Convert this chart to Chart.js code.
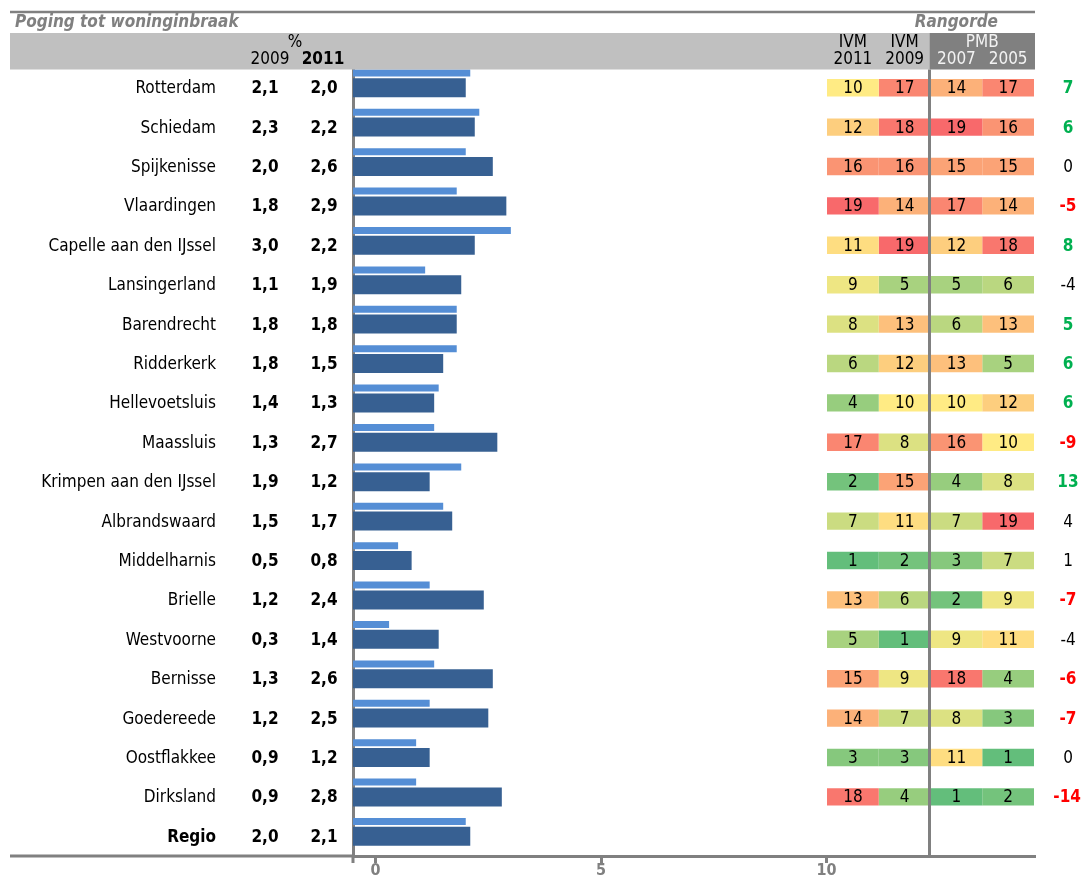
<!DOCTYPE html>
<html>
<head>
<meta charset="utf-8">
<script src="https://cdn.jsdelivr.net/npm/chart.js@4/dist/chart.umd.min.js"></script>
<style>
  html, body { margin: 0; padding: 0; background: #ffffff; }
  #wrap { width: 1084px; height: 879px; position: relative; }
</style>
</head>
<body>
<div id="wrap"><canvas id="c" width="1084" height="879"></canvas></div>
<script>
// ---------- data ----------
const categories = ['Rotterdam', 'Schiedam', 'Spijkenisse', 'Vlaardingen', 'Capelle aan den IJssel',
  'Lansingerland', 'Barendrecht', 'Ridderkerk', 'Hellevoetsluis', 'Maassluis',
  'Krimpen aan den IJssel', 'Albrandswaard', 'Middelharnis', 'Brielle', 'Westvoorne',
  'Bernisse', 'Goedereede', 'Oostflakkee', 'Dirksland', 'Regio'];
const pct2009 = [2.1, 2.3, 2.0, 1.8, 3.0, 1.1, 1.8, 1.8, 1.4, 1.3, 1.9, 1.5, 0.5, 1.2, 0.3, 1.3, 1.2, 0.9, 0.9, 2.0];
const pct2011 = [2.0, 2.2, 2.6, 2.9, 2.2, 1.9, 1.8, 1.5, 1.3, 2.7, 1.2, 1.7, 0.8, 2.4, 1.4, 2.6, 2.5, 1.2, 2.8, 2.1];
const rankIVM2011 = [10, 12, 16, 19, 11, 9, 8, 6, 4, 17, 2, 7, 1, 13, 5, 15, 14, 3, 18, null];
const rankIVM2009 = [17, 18, 16, 14, 19, 5, 13, 12, 10, 8, 15, 11, 2, 6, 1, 9, 7, 3, 4, null];
const rankPMB2007 = [14, 19, 15, 17, 12, 5, 6, 13, 10, 16, 4, 7, 3, 2, 9, 18, 8, 11, 1, null];
const rankPMB2005 = [17, 16, 15, 14, 18, 6, 13, 5, 12, 10, 8, 19, 7, 9, 11, 4, 3, 1, 2, null];
const rankChange = [7, 6, 0, -5, 8, -4, 5, 6, 6, -9, 13, 4, 1, -7, -4, -6, -7, 0, -14, null];
const xTickValues = [0, 5, 10];
const rankColumns = [
  { top: 'IVM', bottom: '2011', ranks: rankIVM2011 },
  { top: 'IVM', bottom: '2009', ranks: rankIVM2009 },
  { top: '', bottom: '2007', ranks: rankPMB2007 },
  { top: '', bottom: '2005', ranks: rankPMB2005 }
];

// ---------- styling ----------
const FONT = '"DejaVu Sans Condensed", "DejaVu Sans", sans-serif';
const GRAY = '#808080';
const LIGHT = '#558ED5';
const DARK = '#376092';

function mix(a, b, t) {
  return 'rgb(' + a.map((v, i) => Math.round(v + (b[i] - v) * t)).join(',') + ')';
}
function rankColor(r) {
  const lo = [99, 190, 123], mid = [255, 235, 132], hi = [248, 105, 107];
  return r <= 10 ? mix(lo, mid, (r - 1) / 9) : mix(mid, hi, (r - 10) / 9);
}
const fmt = v => v.toFixed(1).replace('.', ',');

const heatDatasets = rankColumns.map(col => ({
  label: col.top + ' ' + col.bottom,
  data: col.ranks.map(r => (r == null ? null : 1)),
  ranks: col.ranks,
  heat: true,
  xAxisID: 'x2',
  grouped: false,
  categoryPercentage: 1,
  barPercentage: 0.442,
  backgroundColor: col.ranks.map(r => (r == null ? 'rgba(0,0,0,0)' : rankColor(r))),
  borderWidth: 0
}));

const overlay = {
  id: 'overlay',
  afterDraw(chart) {
    const ctx = chart.ctx;
    const ys = chart.scales.y;
    const x2 = chart.scales.x2;
    const area = chart.chartArea;
    const sep = x2.getPixelForValue(2) - 1;
    ctx.save();

    // top rule
    ctx.strokeStyle = GRAY;
    ctx.lineWidth = 2.5;
    ctx.beginPath(); ctx.moveTo(10, 12); ctx.lineTo(1035, 12); ctx.stroke();

    // header band
    ctx.fillStyle = '#C0C0C0';
    ctx.fillRect(10, 33, sep - 10, 36.5);
    ctx.fillStyle = GRAY;
    ctx.fillRect(sep, 33, 1035 - sep, 36.5);

    // separator line between IVM and PMB
    ctx.lineWidth = 3;
    ctx.beginPath(); ctx.moveTo(sep, 69.5); ctx.lineTo(sep, area.bottom); ctx.stroke();

    // bottom rule extension to the left, and the axis stub below it
    ctx.beginPath(); ctx.moveTo(10, area.bottom); ctx.lineTo(area.left, area.bottom); ctx.stroke();
    ctx.beginPath(); ctx.moveTo(area.left, area.bottom); ctx.lineTo(area.left, area.bottom + 7); ctx.stroke();

    // titles
    ctx.fillStyle = GRAY;
    ctx.font = 'italic bold 17px ' + FONT;
    ctx.textBaseline = 'alphabetic';
    ctx.textAlign = 'left';
    ctx.fillText('Poging tot woninginbraak', 15, 27);
    ctx.textAlign = 'right';
    ctx.fillText('Rangorde', 998, 27);

    // header labels
    ctx.fillStyle = '#000';
    ctx.textBaseline = 'middle';
    ctx.textAlign = 'center';
    ctx.font = '17px ' + FONT;
    ctx.fillText('%', 295, 43);
    ctx.fillText('2009', 270, 60);
    ctx.font = 'bold 17px ' + FONT;
    ctx.fillText('2011', 323, 60);
    ctx.font = '17px ' + FONT;
    rankColumns.forEach((col, i) => {
      const cx = x2.getPixelForValue(i + 0.5);
      ctx.fillStyle = i >= 2 ? '#F2F2F2' : '#000';
      if (col.top) ctx.fillText(col.top, cx, 43);
      ctx.fillText(col.bottom, cx, 60);
    });
    ctx.fillStyle = '#F2F2F2';
    ctx.fillText('PMB', x2.getPixelForValue(3), 43);

    // left columns and rank change column
    categories.forEach((name, i) => {
      const cy = ys.getPixelForValue(i) + 1;
      const last = i === categories.length - 1;
      ctx.fillStyle = '#000';
      ctx.textAlign = 'right';
      ctx.font = (last ? 'bold ' : '') + '17px ' + FONT;
      ctx.fillText(name, 216, cy);
      ctx.textAlign = 'center';
      ctx.font = 'bold 17px ' + FONT;
      ctx.fillText(fmt(pct2009[i]), 265, cy);
      ctx.fillText(fmt(pct2011[i]), 324, cy);

      const d = rankChange[i];
      if (d != null) {
        const strong = d >= 5 || d <= -5;
        ctx.font = (strong ? 'bold ' : '') + '17px ' + FONT;
        ctx.fillStyle = d >= 5 ? '#00B050' : (d <= -5 ? '#FF0000' : '#000');
        const txt = String(d);
        const w = ctx.measureText(txt).width;
        ctx.fillText(txt, Math.min(1068, 1081 - w / 2), cy);
      }
    });

    // rank numbers in heat cells
    ctx.fillStyle = '#000';
    ctx.font = '17px ' + FONT;
    ctx.textAlign = 'center';
    chart.data.datasets.forEach((ds, di) => {
      if (!ds.heat) return;
      chart.getDatasetMeta(di).data.forEach((el, i) => {
        const r = ds.ranks[i];
        if (r == null) return;
        ctx.fillText(String(r), (el.x + el.base) / 2, el.y + 1);
      });
    });
    ctx.restore();
  }
};

new Chart(document.getElementById('c'), {
  type: 'bar',
  data: {
    labels: categories,
    datasets: [
      {
        label: '2009', data: pct2009, xAxisID: 'x', base: -0.5,
        backgroundColor: LIGHT, borderWidth: 0,
        categoryPercentage: 1.504, barPercentage: 0.236
      },
      { label: '', data: [], xAxisID: 'x' },
      {
        label: '2011', data: pct2011, xAxisID: 'x', base: -0.5, grouped: false,
        backgroundColor: DARK, borderWidth: 0,
        categoryPercentage: 1, barPercentage: 0.483
      },
      ...heatDatasets
    ]
  },
  options: {
    indexAxis: 'y',
    responsive: false,
    animation: false,
    devicePixelRatio: 1,
    layout: { padding: { left: 353, right: 50, top: 68, bottom: 0 } },
    plugins: { legend: { display: false }, tooltip: { enabled: false } },
    scales: {
      y: {
        type: 'category',
        offset: true,
        ticks: { display: false },
        grid: { display: false, drawTicks: false },
        border: { display: true, color: GRAY, width: 3 }
      },
      x: {
        type: 'linear',
        position: 'bottom',
        min: -0.5,
        max: 14.6,
        afterBuildTicks: axis => { axis.ticks = xTickValues.map(v => ({ value: v })); },
        ticks: {
          color: GRAY, padding: 0,
          font: { family: FONT, size: 16, weight: 'bold', lineHeight: 1 }
        },
        grid: { drawOnChartArea: false, drawTicks: true, tickLength: 7, color: GRAY, lineWidth: 3 },
        border: { display: true, color: GRAY, width: 3 }
      },
      x2: {
        type: 'linear',
        display: false,
        stacked: true,
        min: -9.16,
        max: 4
      }
    }
  },
  plugins: [overlay]
});
</script>
</body>
</html>
